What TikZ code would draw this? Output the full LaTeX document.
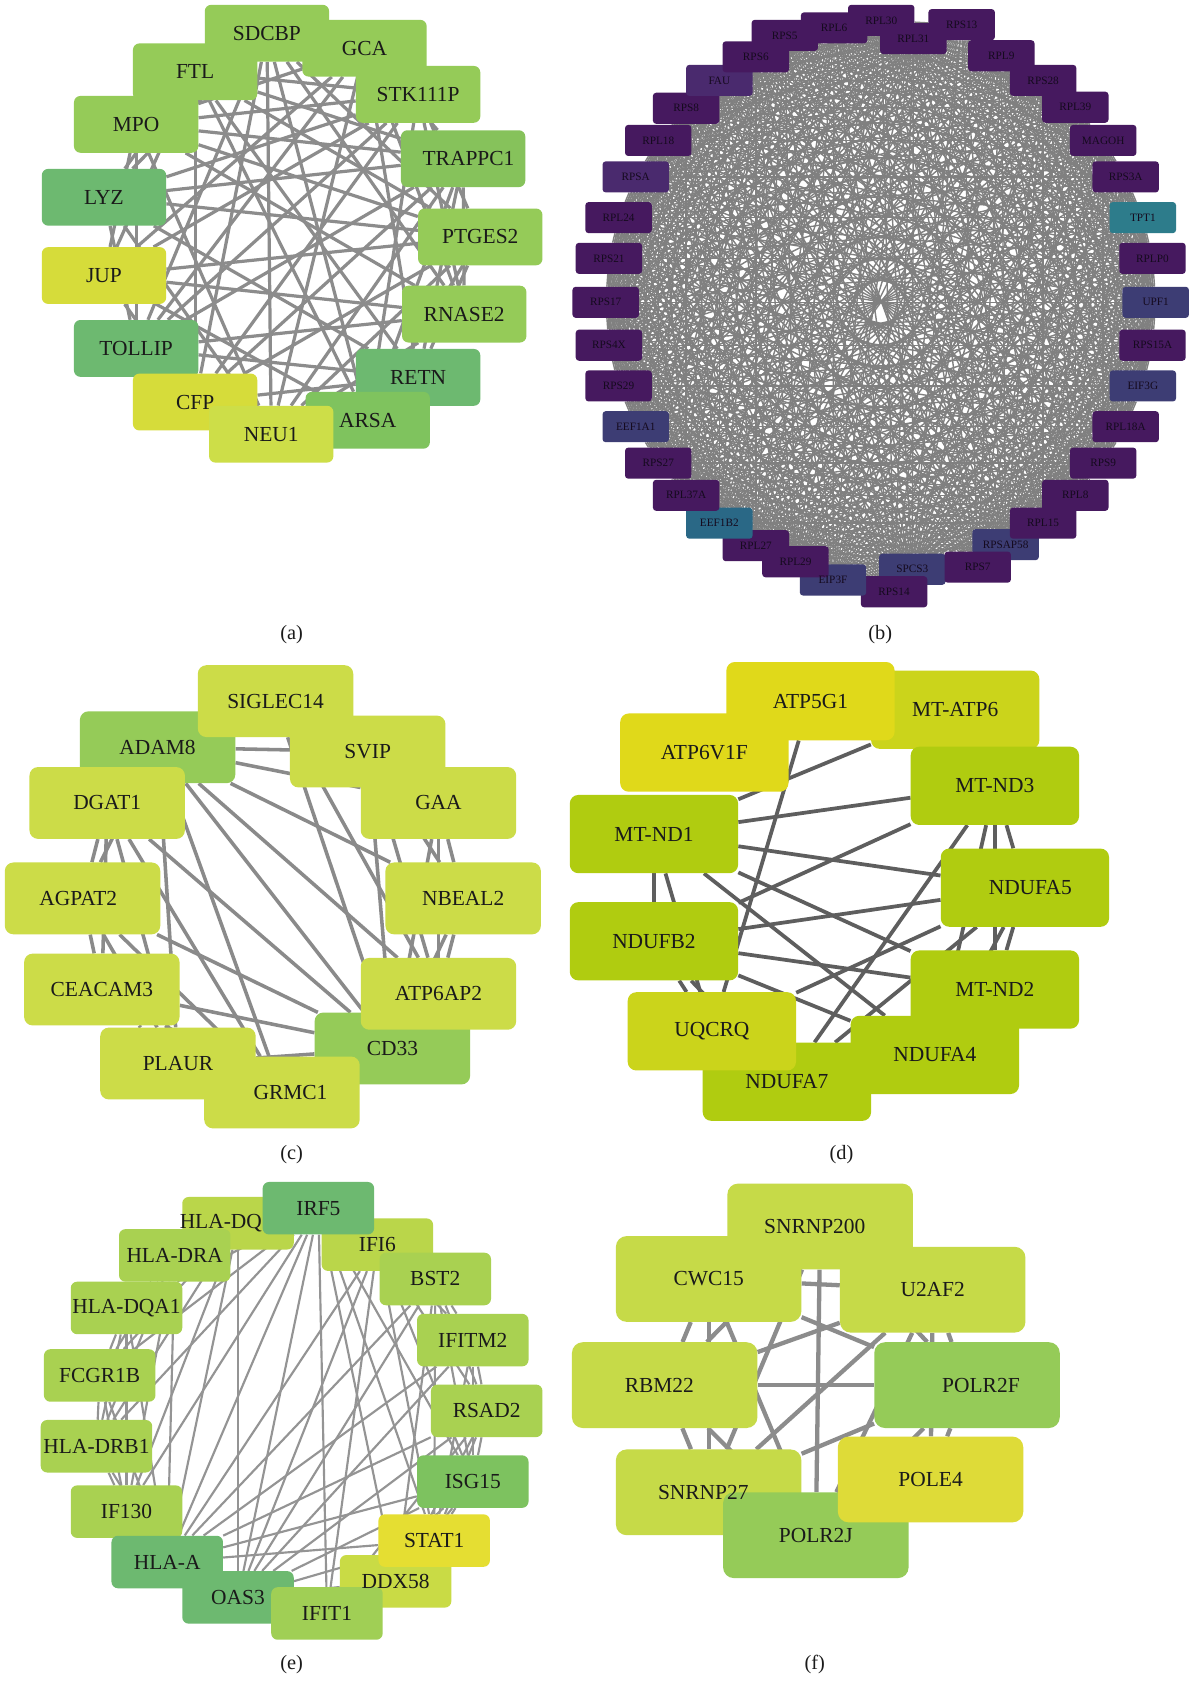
\documentclass[tikz,border=0pt]{standalone}
\usepackage{fontspec}
\setmainfont{Liberation Serif}

\definecolor{txt}{HTML}{1A1A1A}
\definecolor{btxt}{HTML}{150A1E}
\definecolor{lgreen}{HTML}{95CB58}
\definecolor{mgreen}{HTML}{86C25B}
\definecolor{tgreen}{HTML}{6DB970}
\definecolor{sgreen}{HTML}{7FC35E}
\definecolor{lyellow}{HTML}{D6DC3A}
\definecolor{pyellow}{HTML}{CDDE48}
\definecolor{cyellow}{HTML}{CCDC48}
\definecolor{dyellow}{HTML}{E0D91A}
\definecolor{dolive}{HTML}{CBD41B}
\definecolor{dlime}{HTML}{B0CC10}
\definecolor{elime}{HTML}{A9D151}
\definecolor{epale}{HTML}{BAD64A}
\definecolor{eddx}{HTML}{C9DB45}
\definecolor{estat}{HTML}{E5DE32}
\definecolor{eifit}{HTML}{A0CF55}
\definecolor{isg}{HTML}{7DC25F}
\definecolor{fpale}{HTML}{C6DA48}
\definecolor{fyellow}{HTML}{DEDB38}
\definecolor{bpur}{HTML}{46195F}
\definecolor{bpurl}{HTML}{4A2A6E}
\definecolor{bslate}{HTML}{3D3D74}
\definecolor{bteal}{HTML}{2D7C8B}
\definecolor{bblue}{HTML}{2A6886}

\pgfdeclarelayer{edges}
\pgfdeclarelayer{labels}
\pgfsetlayers{edges,main,labels}

\tikzset{
  genebox/.style={},
  genefont/.style={font=\fontsize{20}{22}\selectfont},
  gbox/.style={rectangle,inner sep=0pt,draw=none,genebox},
  glabel/.style={inner sep=0pt,text=txt,genefont},
  caption/.style={inner sep=0pt,text=txt,font=\fontsize{19}{21}\selectfont},
  aedge/.style={line width=3pt,draw=black!45},
  bedge/.style={line width=1.3pt,draw=black!50},
  cedge/.style={line width=3.3pt,draw=black!46},
  dedge/.style={line width=3.5pt,draw=black!63},
  eedge/.style={line width=2pt,draw=black!42},
  fedge/.style={line width=4pt,draw=black!45}
}

% box, then its name on the top layer
\newcommand\gene[5][0]{%
  \node[gbox,fill=#4] (#2) at (#3) {};
  \begin{pgfonlayer}{labels}
    \node[glabel] (#2-lbl) at ([xshift=#1pt]#2.center) {#5};
  \end{pgfonlayer}}

\begin{document}
\begin{tikzpicture}[x=1pt,y=-1pt]
\useasboundingbox (0,0) rectangle (1110,1568);
\begin{pgfonlayer}{edges}
  \fill[white] (0,0) rectangle (1110,1568);
\end{pgfonlayer}

% (a)
\begin{scope}[genebox/.style={minimum width=116pt,minimum height=53pt,rounded corners=6pt}]
  \gene{sdcbp}{249,31}{lgreen}{SDCBP}
  \gene{ftl}{182,67}{lgreen}{FTL}
  \gene{gca}{340,45}{lgreen}{GCA}
  \gene{stk111p}{390,88}{lgreen}{STK111P}
  \gene{mpo}{127,116}{lgreen}{MPO}
  \gene[5]{trappc1}{432,148}{mgreen}{TRAPPC1}
  \gene{lyz}{97,184}{tgreen}{LYZ}
  \gene{ptges2}{448,221}{lgreen}{PTGES2}
  \gene{jup}{97,257}{lyellow}{JUP}
  \gene{rnase2}{433,293}{lgreen}{RNASE2}
  \gene{tollip}{127,325}{tgreen}{TOLLIP}
  \gene{retn}{390,352}{tgreen}{RETN}
  \gene{arsa}{343,392}{sgreen}{ARSA}
  \gene{cfp}{182,375}{lyellow}{CFP}
  \gene{neu1}{253,405}{pyellow}{NEU1}
\end{scope}
\begin{pgfonlayer}{edges}
  \foreach \u/\v in {sdcbp/stk111p, sdcbp/ptges2, sdcbp/rnase2, sdcbp/arsa, sdcbp/neu1, sdcbp/cfp, sdcbp/tollip, sdcbp/lyz,
    gca/trappc1, gca/rnase2, gca/retn, gca/neu1, gca/tollip, gca/jup, gca/mpo,
    ftl/stk111p, ftl/ptges2, ftl/retn, ftl/arsa, ftl/cfp, ftl/jup, ftl/lyz, ftl/trappc1,
    mpo/trappc1, mpo/ptges2, mpo/rnase2, mpo/neu1, mpo/jup, mpo/tollip, mpo/stk111p,
    lyz/trappc1, lyz/ptges2, lyz/retn, lyz/neu1, lyz/tollip, lyz/stk111p,
    jup/ptges2, jup/rnase2, jup/arsa, jup/stk111p, jup/cfp,
    tollip/trappc1, tollip/rnase2, tollip/retn, tollip/stk111p,
    cfp/retn, cfp/ptges2, cfp/stk111p, cfp/trappc1,
    neu1/trappc1, neu1/ptges2, neu1/rnase2,
    arsa/ptges2, arsa/trappc1, arsa/stk111p,
    retn/ptges2, retn/trappc1, rnase2/trappc1, ptges2/stk111p, rnase2/stk111p}
    \draw[aedge] (\u) -- (\v);
\end{pgfonlayer}
\node[caption] (cap-a) at (272,592) {(a)};

% (b)
\begin{scope}[genebox/.style={minimum width=62pt,minimum height=29pt,rounded corners=3pt},
  genefont/.style={font=\fontsize{10.5}{12}\selectfont,text=btxt}]
  \foreach \t/\x/\y/\c [count=\i] in {RPL30/822/19/bpur, RPS13/897/23/bpur, RPL31/852/36/bpur,
      RPL9/934/52/bpur, RPS28/973/75/bpur, RPL39/1003/100/bpur, MAGOH/1029/131/bpur,
      RPS3A/1050/165/bpur, TPT1/1066/203/bteal, RPLP0/1075/241/bpur, UPF1/1078/282/bslate,
      RPS15A/1075/322/bpur, EIF3G/1066/360/bslate, RPL18A/1050/398/bpur, RPS9/1029/432/bpur,
      RPL8/1003/462/bpur, RPSAP58/938/508/bslate, RPL15/973/488/bpur, SPCS3/851/531/bslate,
      RPS7/912/529/bpur, RPS14/834/552/bpur, EIP3F/777/541/bslate, RPL29/742/524/bpur,
      RPL27/705/509/bpur, EEF1B2/671/488/bblue, RPL37A/640/462/bpur, RPS27/614/432/bpur,
      EEF1A1/593/398/bslate, RPS29/577/360/bpur, RPS4X/568/322/bpur, RPS17/565/282/bpur,
      RPS21/568/241/bpur, RPL24/577/203/bpur, RPSA/593/165/bpurl, RPL18/614/131/bpur,
      RPS8/640/101/bpur, FAU/671/75/bpurl, RPS6/705/53/bpur, RPS5/732/33/bpur, RPL6/778/26/bpur}
    {\gene{b\i}{\x,\y}{\c}{\t}}
\end{scope}
\begin{pgfonlayer}{edges}
  \foreach \i in {1,...,39}{
    \pgfmathtruncatemacro\k{\i+1}
    \foreach \j in {\k,...,40} \draw[bedge] (b\i) -- (b\j);
  }
\end{pgfonlayer}
\node[caption] (cap-b) at (821,592) {(b)};

% (c)
\begin{scope}[genebox/.style={minimum width=145pt,minimum height=67pt,rounded corners=8pt}]
  \gene{adam8}{147,697}{lgreen}{ADAM8}
  \gene{siglec14}{257,654}{cyellow}{SIGLEC14}
  \gene{gaa}{409,749}{cyellow}{GAA}
  \gene{svip}{343,701}{cyellow}{SVIP}
  \gene{dgat1}{100,749}{cyellow}{DGAT1}
  \gene[-4]{agpat2}{77,838}{cyellow}{AGPAT2}
  \gene{nbeal2}{432,838}{cyellow}{NBEAL2}
  \gene{ceacam3}{95,923}{cyellow}{CEACAM3}
  \gene{cd33}{366,978}{lgreen}{CD33}
  \gene{atp6ap2}{409,927}{cyellow}{ATP6AP2}
  \gene{plaur}{166,992}{cyellow}{PLAUR}
  \gene[8]{grmc1}{263,1019}{cyellow}{GRMC1}
\end{scope}
\begin{pgfonlayer}{edges}
  \foreach \u/\v in {adam8/svip, adam8/gaa, adam8/cd33, adam8/atp6ap2, adam8/nbeal2, adam8/plaur, adam8/grmc1, adam8/agpat2,
    siglec14/cd33, siglec14/atp6ap2, siglec14/svip,
    dgat1/cd33, dgat1/agpat2, dgat1/ceacam3, dgat1/grmc1, dgat1/plaur,
    agpat2/cd33, agpat2/ceacam3, agpat2/plaur, agpat2/grmc1,
    ceacam3/cd33, ceacam3/plaur, ceacam3/grmc1,
    plaur/cd33, svip/cd33, svip/nbeal2, svip/atp6ap2,
    gaa/nbeal2, gaa/atp6ap2, gaa/cd33, nbeal2/atp6ap2, nbeal2/cd33}
    \draw[cedge] (\u) -- (\v);
\end{pgfonlayer}
\node[caption] (cap-c) at (272,1077) {(c)};

% (d)
\begin{scope}[genebox/.style={minimum width=157pt,minimum height=73pt,rounded corners=8pt}]
  \gene{mtatp6}{891,662}{dolive}{MT-ATP6}
  \gene{atp5g1}{756,654}{dyellow}{ATP5G1}
  \gene{atp6v1f}{657,702}{dyellow}{ATP6V1F}
  \gene{mtnd3}{928,733}{dlime}{MT-ND3}
  \gene{mtnd1}{610,778}{dlime}{MT-ND1}
  \gene[5]{ndufa5}{956,828}{dlime}{NDUFA5}
  \gene{ndufb2}{610,878}{dlime}{NDUFB2}
  \gene{ndufa7}{734,1009}{dlime}{NDUFA7}
  \gene{ndufa4}{872,984}{dlime}{NDUFA4}
  \gene{mtnd2}{928,923}{dlime}{MT-ND2}
  \gene{uqcrq}{664,962}{dolive}{UQCRQ}
\end{scope}
\begin{pgfonlayer}{edges}
  \foreach \u/\v in {atp5g1/uqcrq, mtatp6/mtnd1, mtnd3/mtnd1, mtnd3/ndufb2, mtnd1/ndufa5, mtnd1/mtnd2,
    mtnd1/ndufa4, mtnd1/ndufb2, mtnd1/uqcrq, ndufa5/ndufb2, ndufb2/mtnd2, ndufb2/ndufa4,
    ndufa5/uqcrq, mtnd3/ndufa7, ndufa5/ndufa7, mtnd3/mtnd2, mtnd3/ndufa4, mtnd3/ndufa5,
    ndufa5/mtnd2, ndufa5/ndufa4, ndufb2/uqcrq, ndufb2/ndufa7, uqcrq/ndufa7, mtnd2/ndufa4}
    \draw[dedge] (\u) -- (\v);
\end{pgfonlayer}
\node[caption] (cap-d) at (785,1077) {(d)};

% (e)
\begin{scope}[genebox/.style={minimum width=104pt,minimum height=49pt,rounded corners=6pt}]
  \gene[-16]{hladq}{222,1141}{epale}{HLA-DQ}
  \gene{ifi6}{352,1161}{epale}{IFI6}
  \gene{irf5}{297,1127}{tgreen}{IRF5}
  \gene{bst2}{406,1193}{elime}{BST2}
  \gene{hladra}{163,1171}{elime}{HLA-DRA}
  \gene{hladqa1}{118,1220}{elime}{HLA-DQA1}
  \gene{ifitm2}{441,1250}{elime}{IFITM2}
  \gene{fcgr1b}{93,1283}{elime}{FCGR1B}
  \gene{rsad2}{454,1316}{elime}{RSAD2}
  \gene{hladrb1}{90,1349}{elime}{HLA-DRB1}
  \gene{isg15}{441,1382}{isg}{ISG15}
  \gene{if130}{118,1410}{elime}{IF130}
  \gene{ddx58}{369,1475}{eddx}{DDX58}
  \gene{stat1}{405,1437}{estat}{STAT1}
  \gene{hlaa}{156,1457}{tgreen}{HLA-A}
  \gene{oas3}{222,1490}{tgreen}{OAS3}
  \gene{ifit1}{305,1505}{eifit}{IFIT1}
\end{scope}
\begin{pgfonlayer}{edges}
  \foreach \u/\v in {hladq/hladra, hladq/hladqa1, hladq/fcgr1b, hladq/hladrb1, hladq/if130, hladq/hlaa, hladq/oas3,
    hladra/hladqa1, hladra/fcgr1b, hladra/hladrb1, hladra/if130, hladra/hlaa,
    hladqa1/fcgr1b, hladqa1/hladrb1, hladqa1/if130, hladqa1/hlaa,
    fcgr1b/hladrb1, fcgr1b/if130, fcgr1b/hlaa, hladrb1/if130, hladrb1/hlaa, if130/hlaa,
    irf5/oas3, irf5/hlaa, irf5/ifit1, irf5/if130, irf5/hladqa1, irf5/hladra, irf5/stat1,
    irf5/isg15, irf5/fcgr1b, irf5/hladrb1, irf5/ddx58,
    ifi6/bst2, ifi6/ifitm2, ifi6/rsad2, ifi6/isg15, ifi6/stat1, ifi6/ifit1, ifi6/oas3, ifi6/hlaa,
    bst2/ifitm2, bst2/rsad2, bst2/isg15, bst2/stat1, bst2/oas3, bst2/hlaa, bst2/ddx58,
    ifitm2/rsad2, ifitm2/isg15, ifitm2/oas3, ifitm2/hlaa, ifitm2/stat1,
    rsad2/isg15, rsad2/stat1, rsad2/ddx58, rsad2/ifit1, rsad2/oas3, rsad2/hlaa,
    isg15/stat1, isg15/ddx58, isg15/ifit1, isg15/oas3, isg15/hlaa,
    stat1/ddx58, stat1/ifit1, stat1/oas3, stat1/hlaa,
    ddx58/ifit1, ddx58/oas3, ifit1/oas3, hlaa/oas3, if130/oas3}
    \draw[eedge] (\u) -- (\v);
\end{pgfonlayer}
\node[caption] (cap-e) at (272,1553) {(e)};

% (f)
\begin{scope}[genebox/.style={minimum width=173pt,minimum height=80pt,rounded corners=10pt}]
  \gene[-5]{snrnp200}{765,1144}{fpale}{SNRNP200}
  \gene{cwc15}{661,1193}{fpale}{CWC15}
  \gene{u2af2}{870,1203}{fpale}{U2AF2}
  \gene[-5]{rbm22}{620,1292}{fpale}{RBM22}
  \gene[13]{polr2f}{902,1292}{lgreen}{POLR2F}
  \gene[-5]{snrnp27}{661,1392}{fpale}{SNRNP27}
  \gene{polr2j}{761,1432}{lgreen}{POLR2J}
  \gene{pole4}{868,1380}{fyellow}{POLE4}
\end{scope}
\begin{pgfonlayer}{edges}
  \foreach \u/\v in {snrnp200/polr2j, rbm22/polr2f, cwc15/u2af2, cwc15/polr2f, rbm22/u2af2, snrnp27/u2af2,
    snrnp200/snrnp27, cwc15/polr2j, snrnp27/polr2f, polr2j/u2af2, cwc15/rbm22, cwc15/snrnp27,
    snrnp200/rbm22, rbm22/snrnp27, rbm22/polr2j, u2af2/polr2f, snrnp200/polr2f, polr2f/pole4,
    u2af2/pole4, snrnp200/cwc15, snrnp200/u2af2, polr2j/pole4, snrnp27/polr2j, polr2f/polr2j}
    \draw[fedge] (\u) -- (\v);
\end{pgfonlayer}
\node[caption] (cap-f) at (760,1553) {(f)};
\end{tikzpicture}
\end{document}
